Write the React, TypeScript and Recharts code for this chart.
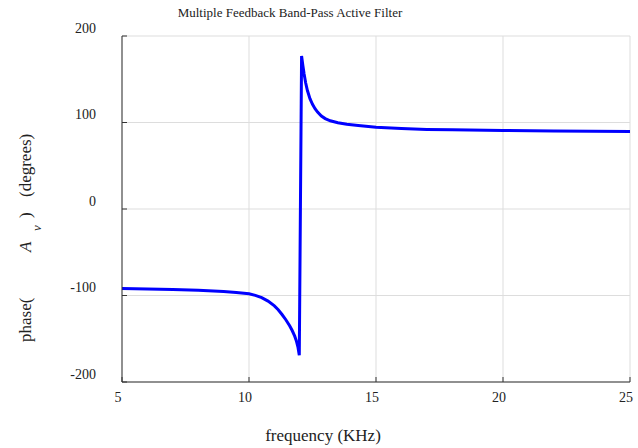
import React from 'react';
import { LineChart, Line, XAxis, YAxis, CartesianGrid } from 'recharts';

// frequency in KHz, phase in degrees
const freq = [5, 6, 7, 8, 9, 9.5, 10, 10.25, 10.5, 10.75, 11, 11.15, 11.3, 11.45, 11.6, 11.7, 11.8, 11.87, 11.93, 11.98, 12.07, 12.12, 12.17, 12.23, 12.3, 12.4, 12.5, 12.6, 12.7, 12.85, 13, 13.2, 13.5, 13.85, 14.3, 15, 16, 17, 18, 20, 22, 25];
const phase = [-92, -92.5, -93, -94, -95.5, -96.5, -98, -99.8, -102.5, -106.5, -112, -116.5, -122, -128, -135, -140.5, -147, -153, -160, -169, 177, 166, 156, 146, 137, 127.5, 121, 116, 112, 107.5, 104.5, 102, 99.8, 98, 96.5, 94.5, 93, 92, 91.5, 90.8, 90.3, 89.7];

const xTicks = [5, 10, 15, 20, 25];
const yTicks = [-200, -100, 0, 100, 200];

const data = freq.map((f, i) => ({ f, p: phase[i] }));

const font = '"Liberation Serif", "Times New Roman", serif';

const XTick = ({ x, y, payload }: any) => (
  <text x={x - 4} y={y} textAnchor="middle" fontFamily={font} fontSize={14} fill="#222">
    {payload.value}
  </text>
);

const YTick = ({ x, y, payload }: any) => (
  <text x={x} y={y - 3.5} textAnchor="end" fontFamily={font} fontSize={14} fill="#222">
    {payload.value}
  </text>
);

export default function App() {
  return (
    <div style={{ position: 'absolute', left: 0, top: 0, width: 638, height: 448, background: '#fff' }}>
      <LineChart width={638} height={448} data={data} margin={{ top: 36, right: 8, left: 0, bottom: 0 }}>
        <CartesianGrid stroke="#dddddd" strokeWidth={1} />
        <XAxis
          dataKey="f"
          type="number"
          domain={[5, 25]}
          ticks={xTicks}
          height={66}
          stroke="#333"
          tickSize={-5}
          tickMargin={25}
          tick={<XTick />}
        />
        <YAxis
          type="number"
          domain={[-200, 200]}
          ticks={yTicks}
          width={122}
          stroke="#333"
          tickSize={-5}
          tickMargin={31}
          tick={<YTick />}
        />
        <Line
          dataKey="p"
          type="linear"
          stroke="#0000ff"
          strokeWidth={3}
          dot={false}
          isAnimationActive={false}
        />
        <text x={290} y={17} textAnchor="middle" fontFamily={font} fontSize={13} fill="#222">
          Multiple Feedback Band-Pass Active Filter
        </text>
        <text x={323} y={441} textAnchor="middle" fontFamily={font} fontSize={17} fill="#222">
          frequency (KHz)
        </text>
        <g fontFamily={font} fontSize={17} fill="#222">
          <text transform="translate(31,342) rotate(-90)">phase(</text>
          <text transform="translate(31,252) rotate(-90)" fontStyle="italic">A</text>
          <text transform="translate(41,231) rotate(-90)" fontStyle="italic" fontSize={13}>v</text>
          <text transform="translate(31,218) rotate(-90)">)</text>
          <text transform="translate(31,197) rotate(-90)">(degrees)</text>
        </g>
      </LineChart>
    </div>
  );
}
